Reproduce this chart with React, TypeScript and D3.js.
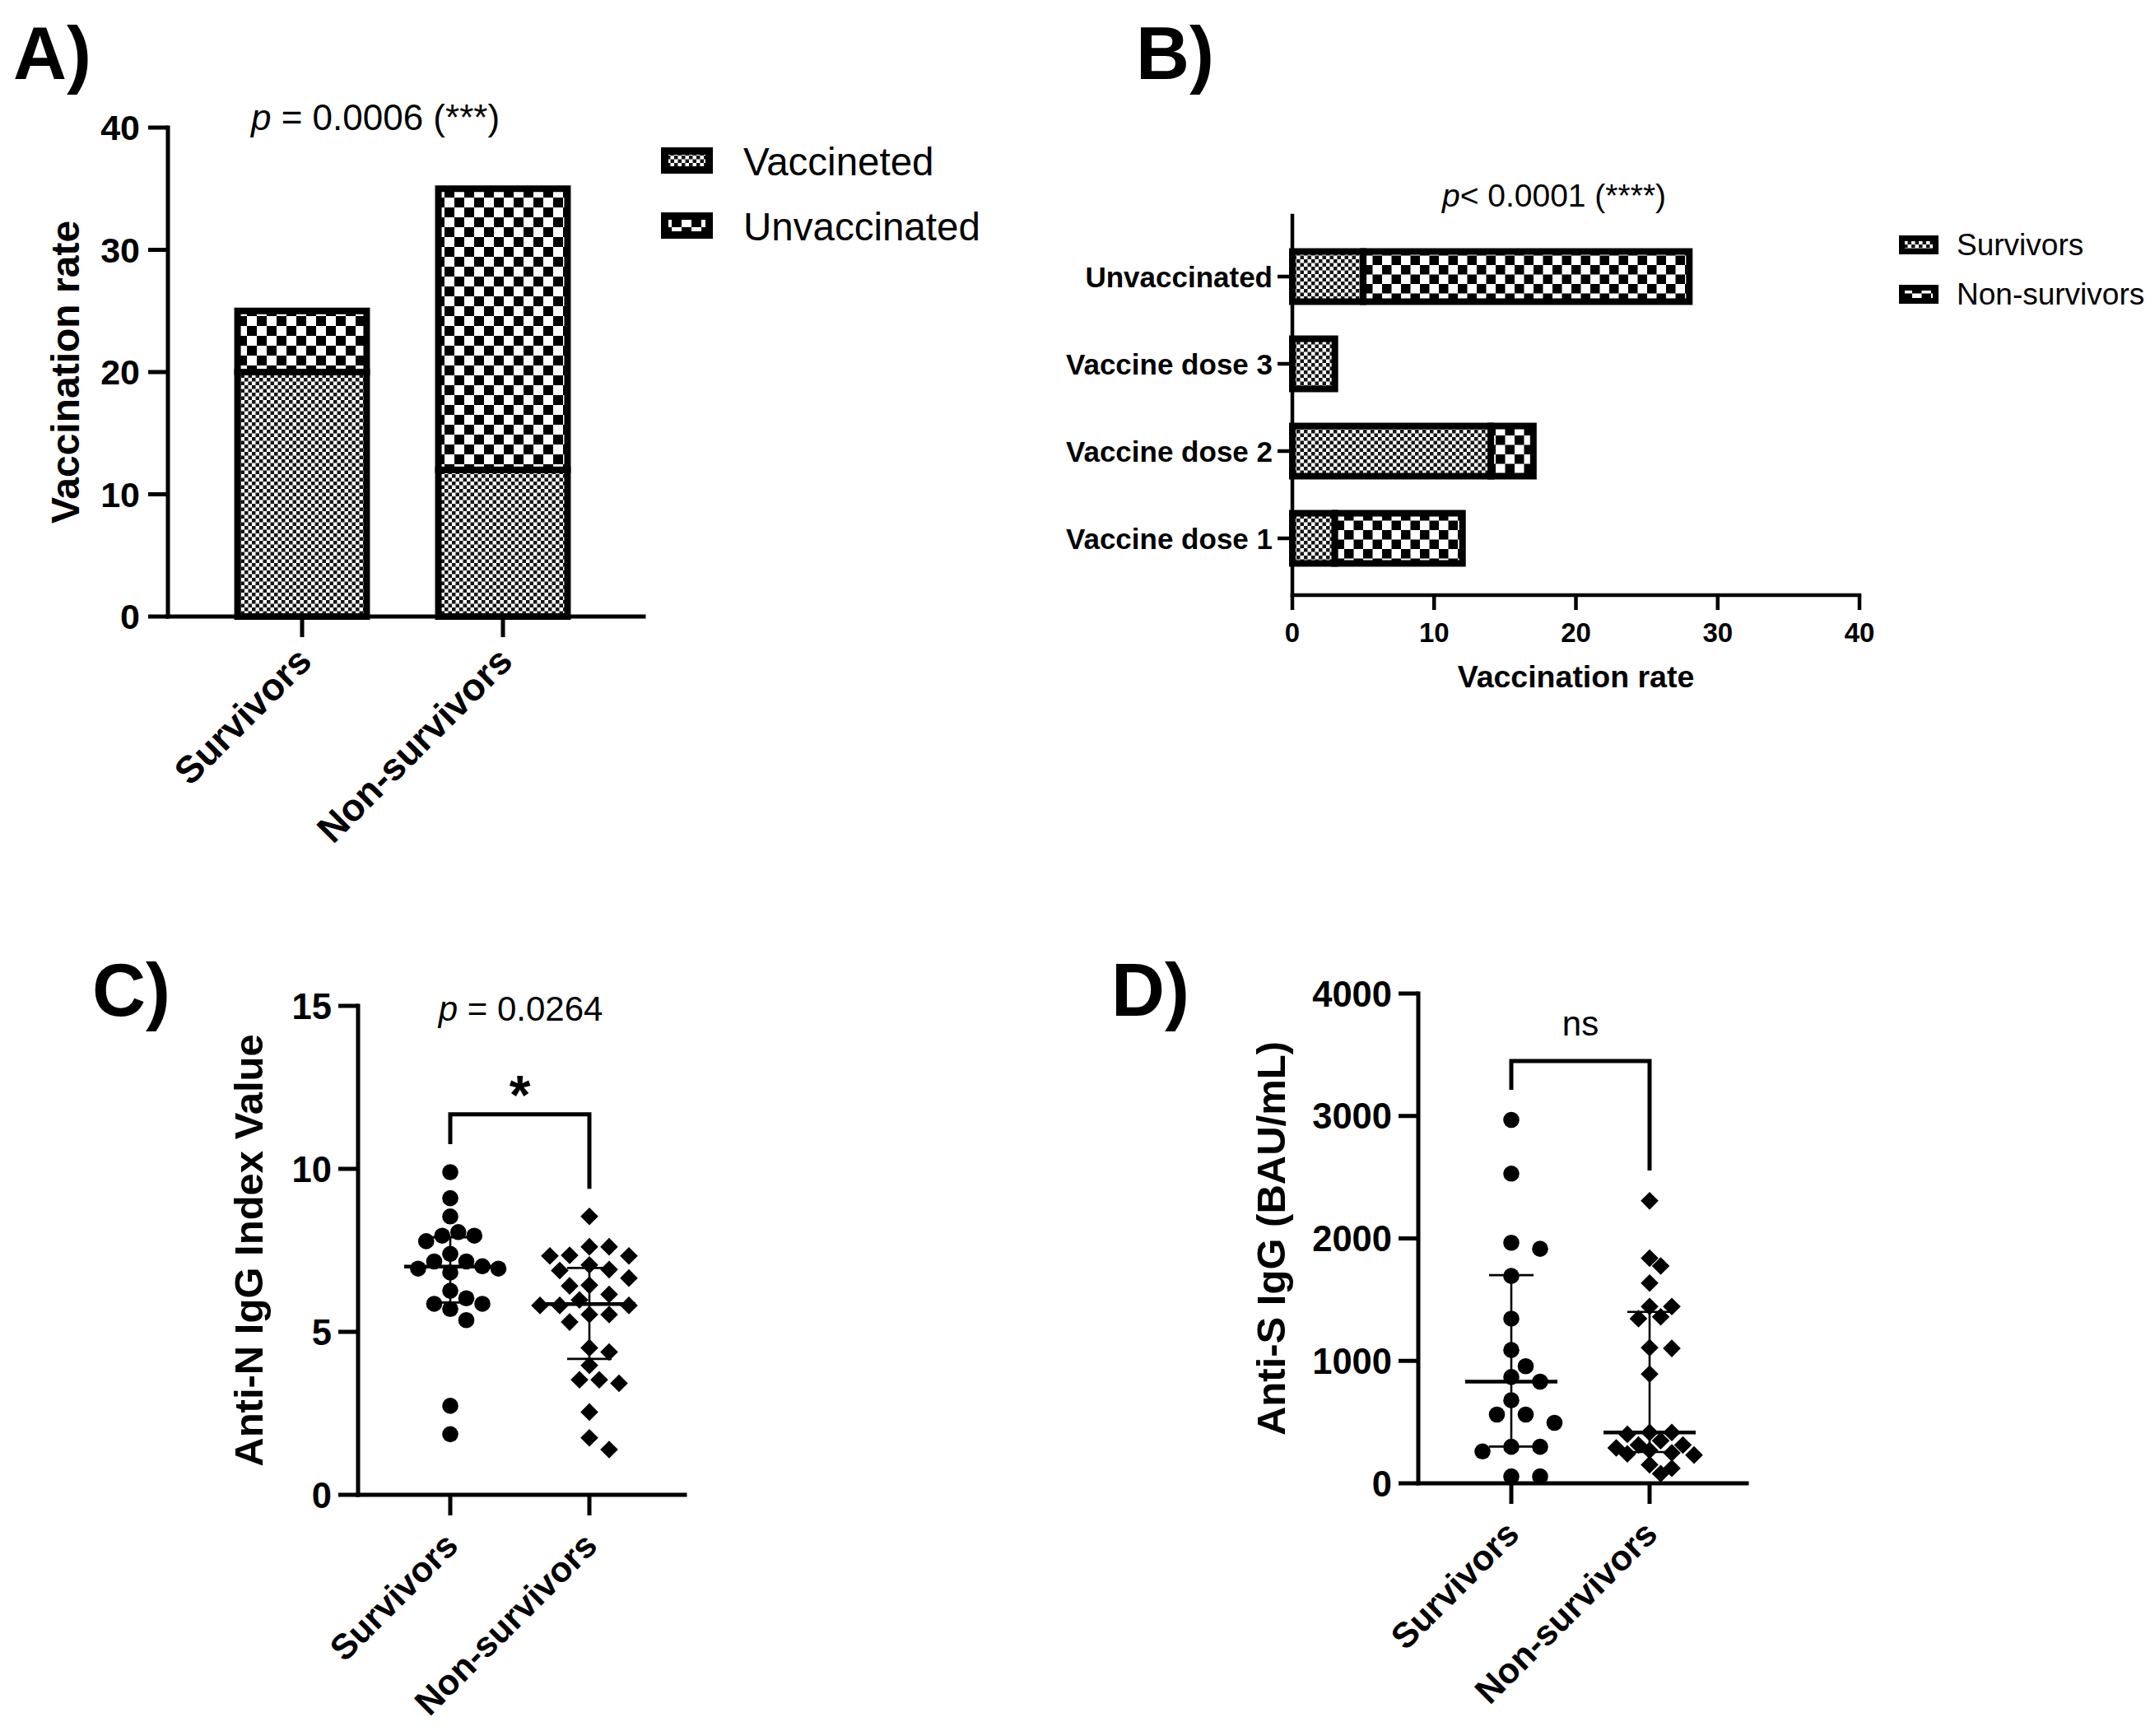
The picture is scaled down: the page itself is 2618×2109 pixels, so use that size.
import React from "react";
import * as d3 from "d3";

// ---- data ----
const groups = ["Survivors", "Non-survivors"];
const vaccLegend = ["Vaccineted", "Unvaccinated"];
const vaccinatedCounts = [20, 12];
const unvaccinatedCounts = [5, 23];

const doseCategories = ["Unvaccinated", "Vaccine dose 3", "Vaccine dose 2", "Vaccine dose 1"];
const doseSurvivors = [5, 3, 14, 3];
const doseNonSurvivors = [23, 0, 3, 9];
const doseLegend = ["Survivors", "Non-survivors"];

const rateTicks = [0, 10, 20, 30, 40];

const antiNSurvivors = [9.9, 9.1, 8.54, 8.06, 7.95, 7.95, 7.78, 7.39, 7.16, 7.16, 7.01, 6.94, 6.94, 6.82, 6.26, 6.03, 5.86, 5.86, 5.7, 5.36, 2.73, 1.86];
const antiNNonSurvivors = [8.54, 7.61, 7.61, 7.35, 7.33, 7.33, 7.05, 6.91, 6.88, 6.65, 6.43, 6.41, 6.15, 5.98, 5.81, 5.81, 5.81, 5.53, 5.53, 5.3, 4.51, 4.38, 3.97, 3.53, 3.53, 3.42, 2.54, 1.75, 1.39];
const antiNMedian = [7.0, 5.85];
const antiNLow = [5.9, 4.17];
const antiNHigh = [7.9, 6.96];
const antiNTicks = [0, 5, 10, 15];
const antiNBracket = [10.76, 11.67, 9.39]; // left foot, top, right foot

const antiSSurvivors = [2968, 2529, 1965, 1915, 1693, 1345, 1088, 956, 868, 830, 678, 561, 561, 494, 298, 298, 260, 56, 56];
const antiSNonSurvivors = [2307, 1839, 1775, 1635, 1444, 1444, 1360, 1345, 1108, 1102, 892, 415, 415, 400, 348, 313, 313, 289, 269, 249, 240, 231, 152, 123, 79];
const antiSMedian = [830, 415];
const antiSLow = [300, 255];
const antiSHigh = [1700, 1400];
const antiSTicks = [0, 1000, 2000, 3000, 4000];
const antiSBracket = [3213, 3449, 2555];

const FONT = '"Liberation Sans", Arial, Helvetica, sans-serif';

type Pt = { x: number; y: number };

// simple dot-plot spreading: top-down, nearest free slot on a half-step grid
const swarm = (values: number[], y: (v: number) => number, cx: number, dist: number, step: number) => {
    const sorted = values.map(v => y(v)).sort((a, b) => a - b);
    const placed: Pt[] = [];
    sorted.forEach(py => {
        for (let k = 0; k < 80; k++) {
            const off = k === 0 ? 0 : (k % 2 === 1 ? 1 : -1) * Math.ceil(k / 2) * step;
            const px = cx + off;
            if (placed.every(q => Math.hypot(q.x - px, q.y - py) >= dist)) {
                placed.push({ x: px, y: py });
                break;
            }
        }
    });
    return placed;
};

const diamond = (p: Pt, h: number) => `M${p.x},${p.y - h}L${p.x + h},${p.y}L${p.x},${p.y + h}L${p.x - h},${p.y}Z`;

const Patterns = () => (
    <defs>
        <pattern id="fine" width={9} height={9} patternUnits="userSpaceOnUse">
            <rect width={9} height={9} fill="#fff" />
            <rect width={4.5} height={4.5} fill="#161616" />
            <rect x={4.5} y={4.5} width={4.5} height={4.5} fill="#161616" />
        </pattern>
        <pattern id="coarseA" width={24} height={24} patternUnits="userSpaceOnUse">
            <rect width={24} height={24} fill="#fff" />
            <rect width={12} height={12} fill="#000" />
            <rect x={12} y={12} width={12} height={12} fill="#000" />
        </pattern>
        <pattern id="coarseB" width={23} height={23} patternUnits="userSpaceOnUse">
            <rect width={23} height={23} fill="#fff" />
            <rect width={11.5} height={11.5} fill="#000" />
            <rect x={11.5} y={11.5} width={11.5} height={11.5} fill="#000" />
        </pattern>
    </defs>
);

const PanelA = () => {
    const y = d3.scaleLinear().domain([0, 40]).range([749, 155]);
    const x = d3.scaleBand().domain(groups).range([245, 733]).paddingInner(0.357).paddingOuter(0.1785);
    const rows = groups.map((g, i) => ({ g, vacc: vaccinatedCounts[i], unvacc: unvaccinatedCounts[i] }));
    const series = d3.stack<any>().keys(["vacc", "unvacc"])(rows);
    const fills = ["url(#fine)", "url(#coarseA)"];
    const x0 = 204, x1 = 782;
    return (
        <g>
            <text x={16} y={96} fontSize={90} fontWeight={700}>A)</text>
            {series.map((s, si) => s.map((d, i) => (
                <rect key={`${si}-${i}`} x={x(groups[i])!} width={x.bandwidth()} y={y(d[1])} height={y(d[0]) - y(d[1])}
                      fill={fills[si]} stroke="#000" strokeWidth={8} />
            )))}
            <line x1={x0} x2={x0} y1={y(40)} y2={y(0)} stroke="#000" strokeWidth={5} strokeLinecap="square" />
            <line x1={x0} x2={x1} y1={y(0)} y2={y(0)} stroke="#000" strokeWidth={5} strokeLinecap="square" />
            {rateTicks.map(t => (
                <g key={t}>
                    <line x1={x0 - 24} x2={x0} y1={y(t)} y2={y(t)} stroke="#000" strokeWidth={5} />
                    <text x={x0 - 34} y={y(t)} dy="0.36em" textAnchor="end" fontSize={43} fontWeight={700}>{t}</text>
                </g>
            ))}
            {groups.map(g => {
                const cx = x(g)! + x.bandwidth() / 2;
                return (
                    <g key={g}>
                        <line x1={cx} x2={cx} y1={y(0)} y2={y(0) + 25} stroke="#000" strokeWidth={5} />
                        <text transform={`translate(${cx + 14},${y(0) + 57}) rotate(-45)`} textAnchor="end"
                              fontSize={46} fontWeight={700}>{g}</text>
                    </g>
                );
            })}
            <text transform={`translate(96,${(y(0) + y(40)) / 2}) rotate(-90)`} textAnchor="middle" fontSize={48}
                  fontWeight={700}>Vaccination rate</text>
            <text x={456} y={158} textAnchor="middle" fontSize={44}>
                <tspan fontStyle="italic">p</tspan> = 0.0006 (***)
            </text>
            {vaccLegend.map((l, i) => (
                <g key={l}>
                    <rect x={807.5} y={183.5 + i * 79} width={54} height={23} fill={fills[i]} stroke="#000" strokeWidth={9} />
                    <text x={903} y={213 + i * 79} fontSize={47.5}>{l}</text>
                </g>
            ))}
        </g>
    );
};

const PanelB = () => {
    const x = d3.scaleLinear().domain([0, 40]).range([1570, 2259]);
    const y = d3.scaleBand().domain(doseCategories).range([283, 707]).paddingInner(0.425).paddingOuter(0.2125);
    const rows = doseCategories.map((c, i) => ({ c, surv: doseSurvivors[i], non: doseNonSurvivors[i] }));
    const series = d3.stack<any>().keys(["surv", "non"])(rows);
    const fills = ["url(#fine)", "url(#coarseB)"];
    const axisY = 723;
    return (
        <g>
            <text x={1380} y={96} fontSize={90} fontWeight={700}>B)</text>
            {series.map((s, si) => s.map((d, i) => d[1] - d[0] > 0 ? (
                <rect key={`${si}-${i}`} y={y(doseCategories[i])!} height={y.bandwidth()} x={x(d[0])} width={x(d[1]) - x(d[0])}
                      fill={fills[si]} stroke="#000" strokeWidth={8} />
            ) : null))}
            <line x1={x(0)} x2={x(0)} y1={262} y2={axisY} stroke="#000" strokeWidth={4.5} strokeLinecap="square" />
            <line x1={x(0)} x2={x(40)} y1={axisY} y2={axisY} stroke="#000" strokeWidth={4.5} strokeLinecap="square" />
            {rateTicks.map(t => (
                <g key={t}>
                    <line x1={x(t)} x2={x(t)} y1={axisY} y2={axisY + 18} stroke="#000" strokeWidth={4.5} />
                    <text x={x(t)} y={780} textAnchor="middle" fontSize={33} fontWeight={700}>{t}</text>
                </g>
            ))}
            {doseCategories.map(c => {
                const cy = y(c)! + y.bandwidth() / 2;
                return (
                    <g key={c}>
                        <line x1={x(0) - 18} x2={x(0)} y1={cy} y2={cy} stroke="#000" strokeWidth={4.5} />
                        <text x={x(0) - 24} y={cy} dy="0.36em" textAnchor="end" fontSize={35} fontWeight={700}>{c}</text>
                    </g>
                );
            })}
            <text x={(x(0) + x(40)) / 2} y={835} textAnchor="middle" fontSize={37.5} fontWeight={700}>Vaccination rate</text>
            <text x={1888} y={251} textAnchor="middle" fontSize={39}>
                <tspan fontStyle="italic">p</tspan>{"< 0.0001 (****)"}
            </text>
            {doseLegend.map((l, i) => (
                <g key={l}>
                    <rect x={2310.5} y={289.5 + i * 60} width={41} height={16} fill={fills[i]} stroke="#000" strokeWidth={7} />
                    <text x={2377} y={310 + i * 60} fontSize={37}>{l}</text>
                </g>
            ))}
        </g>
    );
};

interface DotPanelProps {
    label: string;
    labelX: number;
    axisX: number;
    axisEnd: number;
    y: d3.ScaleLinear<number, number>;
    centers: [number, number];
    ticks: number[];
    survivors: number[];
    nonSurvivors: number[];
    median: number[];
    low: number[];
    high: number[];
    bracket: number[];
    sig: string;
    sigBaseline: number;
    sigSize: number;
    sigBold: boolean;
    pText?: string;
    title: string;
    titleX: number;
    spread: [number, number, number, number];
}

const DotPanel = (p: DotPanelProps) => {
    const x = d3.scalePoint().domain(groups).range(p.centers);
    const axisY = p.y(0);
    const top = p.y(p.ticks[p.ticks.length - 1]);
    const cs = x(groups[0])!, cn = x(groups[1])!;
    const circles = swarm(p.survivors, p.y, cs, p.spread[0], p.spread[1]);
    const diamonds = swarm(p.nonSurvivors, p.y, cn, p.spread[2], p.spread[3]);
    return (
        <g>
            <text x={p.labelX} y={1234} fontSize={90} fontWeight={700}>{p.label}</text>
            {circles.map((c, i) => <circle key={i} cx={c.x} cy={c.y} r={9.8} fill="#000" />)}
            {diamonds.map((c, i) => <path key={i} d={diamond(c, 10.8)} fill="#000" />)}
            {groups.map((g, i) => {
                const cx = x(g)!;
                return (
                    <g key={g}>
                        <line x1={cx - 56} x2={cx + 56} y1={p.y(p.median[i])} y2={p.y(p.median[i])} stroke="#000" strokeWidth={4.5} />
                        <line x1={cx} x2={cx} y1={p.y(p.low[i])} y2={p.y(p.high[i])} stroke="#000" strokeWidth={2.6} />
                        <line x1={cx - 27} x2={cx + 27} y1={p.y(p.low[i])} y2={p.y(p.low[i])} stroke="#000" strokeWidth={2.6} />
                        <line x1={cx - 27} x2={cx + 27} y1={p.y(p.high[i])} y2={p.y(p.high[i])} stroke="#000" strokeWidth={2.6} />
                    </g>
                );
            })}
            <path d={`M${cs},${p.y(p.bracket[0])}V${p.y(p.bracket[1])}H${cn}V${p.y(p.bracket[2])}`} fill="none"
                  stroke="#000" strokeWidth={5} />
            <text x={(cs + cn) / 2} y={p.sigBaseline} textAnchor="middle" fontSize={p.sigSize}
                  fontWeight={p.sigBold ? 700 : 400}>{p.sig}</text>
            {p.pText ? (
                <text x={(cs + cn) / 2 + 1} y={1240} textAnchor="middle" fontSize={42}>
                    <tspan fontStyle="italic">p</tspan>{p.pText}
                </text>
            ) : null}
            <line x1={p.axisX} x2={p.axisX} y1={top} y2={axisY} stroke="#000" strokeWidth={5} strokeLinecap="square" />
            <line x1={p.axisX} x2={p.axisEnd} y1={axisY} y2={axisY} stroke="#000" strokeWidth={5} strokeLinecap="square" />
            {p.ticks.map(t => (
                <g key={t}>
                    <line x1={p.axisX - 24} x2={p.axisX} y1={p.y(t)} y2={p.y(t)} stroke="#000" strokeWidth={5} />
                    <text x={p.axisX - 32} y={p.y(t)} dy="0.36em" textAnchor="end" fontSize={43.5} fontWeight={700}>{t}</text>
                </g>
            ))}
            {groups.map(g => {
                const cx = x(g)!;
                return (
                    <g key={g}>
                        <line x1={cx} x2={cx} y1={axisY} y2={axisY + 25} stroke="#000" strokeWidth={5} />
                        <text transform={`translate(${cx + 12},${axisY + 64}) rotate(-45)`} textAnchor="end" fontSize={43}
                              fontWeight={700}>{g}</text>
                    </g>
                );
            })}
            <text transform={`translate(${p.titleX},${(top + axisY) / 2}) rotate(-90)`} textAnchor="middle" fontSize={49}
                  fontWeight={700}>{p.title}</text>
        </g>
    );
};

export default function App() {
    const yC = d3.scaleLinear().domain([0, 15]).range([1816, 1222]);
    const yD = d3.scaleLinear().domain([0, 4000]).range([1802, 1207]);
    return (
        <svg width={2618} height={2109} viewBox="0 0 2618 2109" fontFamily={FONT}
             style={{ position: "absolute", left: 0, top: 0, background: "#fff" }}>
            <Patterns />
            <rect width={2618} height={2109} fill="#fff" />
            <PanelA />
            <PanelB />
            <DotPanel label="C)" labelX={112} axisX={435} axisEnd={832} y={yC} centers={[547, 716]} ticks={antiNTicks}
                      survivors={antiNSurvivors} nonSurvivors={antiNNonSurvivors} median={antiNMedian} low={antiNLow}
                      high={antiNHigh} bracket={antiNBracket} sig="*" sigBaseline={1353} sigSize={66} sigBold={true}
                      pText=" = 0.0264" title="Anti-N IgG Index Value" titleX={319} spread={[19.5, 9.75, 20, 12]} />
            <DotPanel label="D)" labelX={1350} axisX={1723} axisEnd={2122} y={yD} centers={[1836, 2004]} ticks={antiSTicks}
                      survivors={antiSSurvivors} nonSurvivors={antiSNonSurvivors} median={antiSMedian} low={antiSLow}
                      high={antiSHigh} bracket={antiSBracket} sig="ns" sigBaseline={1258} sigSize={42} sigBold={false}
                      title="Anti-S IgG (BAU/mL)" titleX={1561} spread={[21, 17.5, 15, 13.5]} />
        </svg>
    );
}
